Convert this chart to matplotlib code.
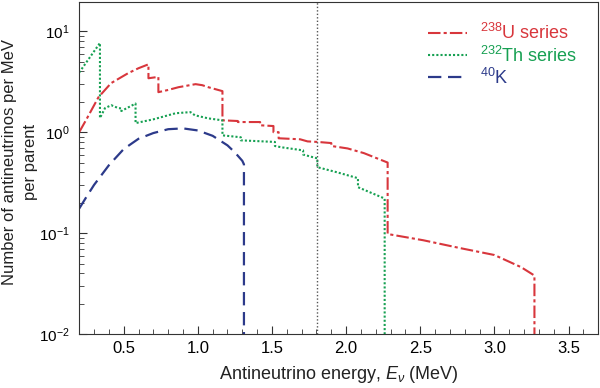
import matplotlib
matplotlib.use("Agg")
import matplotlib.pyplot as plt

plt.rcParams['font.family'] = ['Liberation Sans', 'DejaVu Sans']
plt.rcParams['mathtext.fontset'] = 'custom'
plt.rcParams['mathtext.rm'] = 'Liberation Sans'
plt.rcParams['mathtext.it'] = 'Liberation Sans:italic'
plt.rcParams['mathtext.bf'] = 'Liberation Sans:bold'

# 238U series (step-like spectrum, repeated energies are vertical edges)
u_energy = [0.2, 0.25, 0.33, 0.415, 0.53, 0.6, 0.667, 0.667, 0.734, 0.734, 0.80, 0.87,
            0.985, 1.03, 1.07, 1.166, 1.166, 1.27, 1.27, 1.42, 1.42, 1.51, 1.51, 1.545,
            1.545, 1.69, 1.74, 1.81, 1.90, 1.90, 2.01, 2.12, 2.28, 2.28, 2.52, 2.77,
            3.0, 3.18, 3.27, 3.27]
u_value = [1.0, 1.35, 2.22, 3.06, 3.84, 4.3, 4.7, 3.42, 3.53, 2.49, 2.62, 2.79,
           2.99, 2.92, 2.79, 2.55, 1.31, 1.29, 1.26, 1.26, 1.17, 1.15, 1.0, 1.0,
           0.87, 0.85, 0.81, 0.80, 0.78, 0.73, 0.69, 0.62, 0.50, 0.098, 0.085, 0.071,
           0.0607, 0.046, 0.038, 0.005]

# 232Th series
th_energy = [0.2, 0.34, 0.34, 0.374, 0.416, 0.464, 0.484, 0.484, 0.58, 0.58, 0.7, 0.85,
             0.95, 0.98, 1.07, 1.166, 1.166, 1.29, 1.29, 1.52, 1.52, 1.56, 1.71, 1.71,
             1.806, 1.806, 1.94, 2.08, 2.08, 2.26, 2.26]
th_value = [3.9, 7.65, 1.38, 1.73, 1.85, 1.73, 1.72, 1.62, 1.92, 1.23, 1.34, 1.54,
            1.58, 1.47, 1.37, 1.31, 0.93, 0.89, 0.83, 0.80, 0.73, 0.71, 0.66, 0.60,
            0.55, 0.45, 0.40, 0.35, 0.285, 0.22, 0.005]

# 40K
k_energy = [0.2, 0.25, 0.3, 0.4, 0.5, 0.6, 0.7, 0.8, 0.9, 1.0, 1.1, 1.2, 1.25, 1.3, 1.311, 1.311]
k_value = [0.175, 0.23, 0.30, 0.47, 0.68, 0.86, 0.98, 1.07, 1.09, 1.04, 0.92, 0.74, 0.63, 0.52, 0.48, 0.005]

threshold = 1.806

red = '#d8363c'
green = '#16a052'
blue = '#2c3a8a'
fs = 13

fig = plt.figure(figsize=(6, 3.88), dpi=100)
ax = fig.add_axes([0.132, 0.139, 0.865, 0.856])

ax.plot(u_energy, u_value, color=red, lw=1.5, ls=(0, (6, 1.5, 1.5, 1.5)),
        label=r'$^{238}$U series')
ax.plot(th_energy, th_value, color=green, lw=1.5, ls=(0, (1, 1)),
        label=r'$^{232}$Th series')
ax.plot(k_energy, k_value, color=blue, lw=1.6, ls=(0, (6, 3)),
        label=r'$^{40}$K')
ax.axvline(threshold, color='#555555', ls=(0, (1, 1.5)), lw=1)

ax.set_yscale('log')
ax.set_xlim(0.2, 3.7)
ax.set_ylim(0.01, 19.5)
ax.set_xticks([0.5, 1.0, 1.5, 2.0, 2.5, 3.0, 3.5])
ax.set_xticklabels(['0.5', '1.0', '1.5', '2.0', '2.5', '3.0', '3.5'])
ax.xaxis.set_minor_locator(matplotlib.ticker.MultipleLocator(0.1))
ax.tick_params(which='both', direction='in', color='#333333')
ax.tick_params(which='major', length=6, pad=5)
ax.tick_params(which='minor', length=3.5)
ax.tick_params(axis='x', labelsize=12)
ax.tick_params(axis='y', labelsize=11, pad=7)
for s in ax.spines.values():
    s.set_color('#333333')

ax.set_xlabel(r'Antineutrino energy, $E_{\nu}$ (MeV)', fontsize=fs, color='#222222', labelpad=6)
fig.text(20 / 600, 1 - 162 / 388, 'Number of antineutrinos per MeV\nper parent',
         rotation=90, ha='center', va='center', fontsize=12, color='#222222',
         linespacing=1.5, multialignment='center')

leg = ax.legend(loc='upper left', bbox_to_anchor=(0.64, 0.985), frameon=False,
                fontsize=fs, labelcolor='linecolor', handlelength=2.2,
                handletextpad=0.7, labelspacing=0.12)

fig.savefig('out.png', dpi=100)
